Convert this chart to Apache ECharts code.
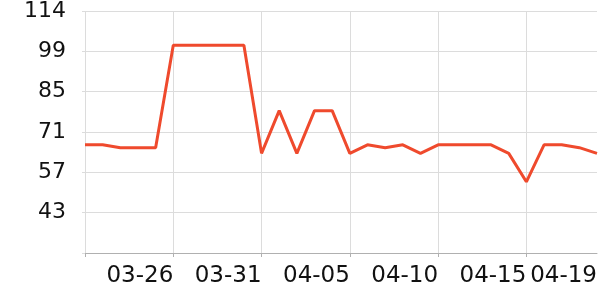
<!DOCTYPE html>
<html>
<head>
<meta charset="utf-8">
<script src="https://cdn.jsdelivr.net/npm/echarts@6/dist/echarts.min.js"></script>
<style>html,body{margin:0;padding:0;background:#fff}#c{width:600px;height:300px}</style>
</head>
<body>
<div id="c"></div>
<script>
var dates = ['03-21','03-22','03-23','03-24','03-25','03-26','03-27','03-28','03-29','03-30',
             '03-31','04-01','04-02','04-03','04-04','04-05','04-06','04-07','04-08','04-09',
             '04-10','04-11','04-12','04-13','04-14','04-15','04-16','04-17','04-18','04-19'];
var values = [67,67,66,66,66,102,102,102,102,102,
              64,79,64,79,79,64,67,66,67,64,
              67,67,67,67,64,54,67,67,66,64];
var yMin = 29, yMax = 114, ySteps = 6;

var chart = echarts.init(document.getElementById('c'), null, {renderer:'canvas'});
var showIdx = function (i) { return (i % 5 === 0 && i > 0) || i === dates.length - 1; };
var lineIdx = function (i) { return i % 5 === 0; };
chart.setOption({
  animation: false,
  grid: {left: 85, right: 2, top: 10, bottom: 47},
  xAxis: {
    type: 'category',
    data: dates,
    boundaryGap: false,
    axisLine: {lineStyle: {color: '#b0b0b0', width: 1}},
    axisTick: {show: true, interval: lineIdx, length: 4, lineStyle: {color: '#b0b0b0'}},
    splitLine: {show: true, interval: lineIdx, lineStyle: {color: '#dcdcdc', width: 1}},
    axisLabel: {interval: function (i) { return showIdx(i); }, align: 'right', margin: 12,
                fontFamily: 'DejaVu Sans', fontSize: 23, color: '#111'}
  },
  yAxis: {
    type: 'value',
    min: yMin, max: yMax, interval: (yMax - yMin) / ySteps,
    axisLine: {show: false},
    axisTick: {show: true, length: 3, lineStyle: {color: '#dcdcdc'}},
    splitLine: {lineStyle: {color: '#dcdcdc', width: 1}},
    axisLabel: {
      margin: 19, fontFamily: 'DejaVu Sans', fontSize: 22, color: '#111',
      formatter: function (v) { return v <= yMin + 0.001 ? '' : String(Math.floor(v + 1e-6)); }
    }
  },
  series: [{
    type: 'line',
    data: values,
    symbol: 'none',
    lineStyle: {color: '#ef4a2d', width: 3},
    itemStyle: {color: '#ef4a2d'}
  }]
});
</script>
</body>
</html>
